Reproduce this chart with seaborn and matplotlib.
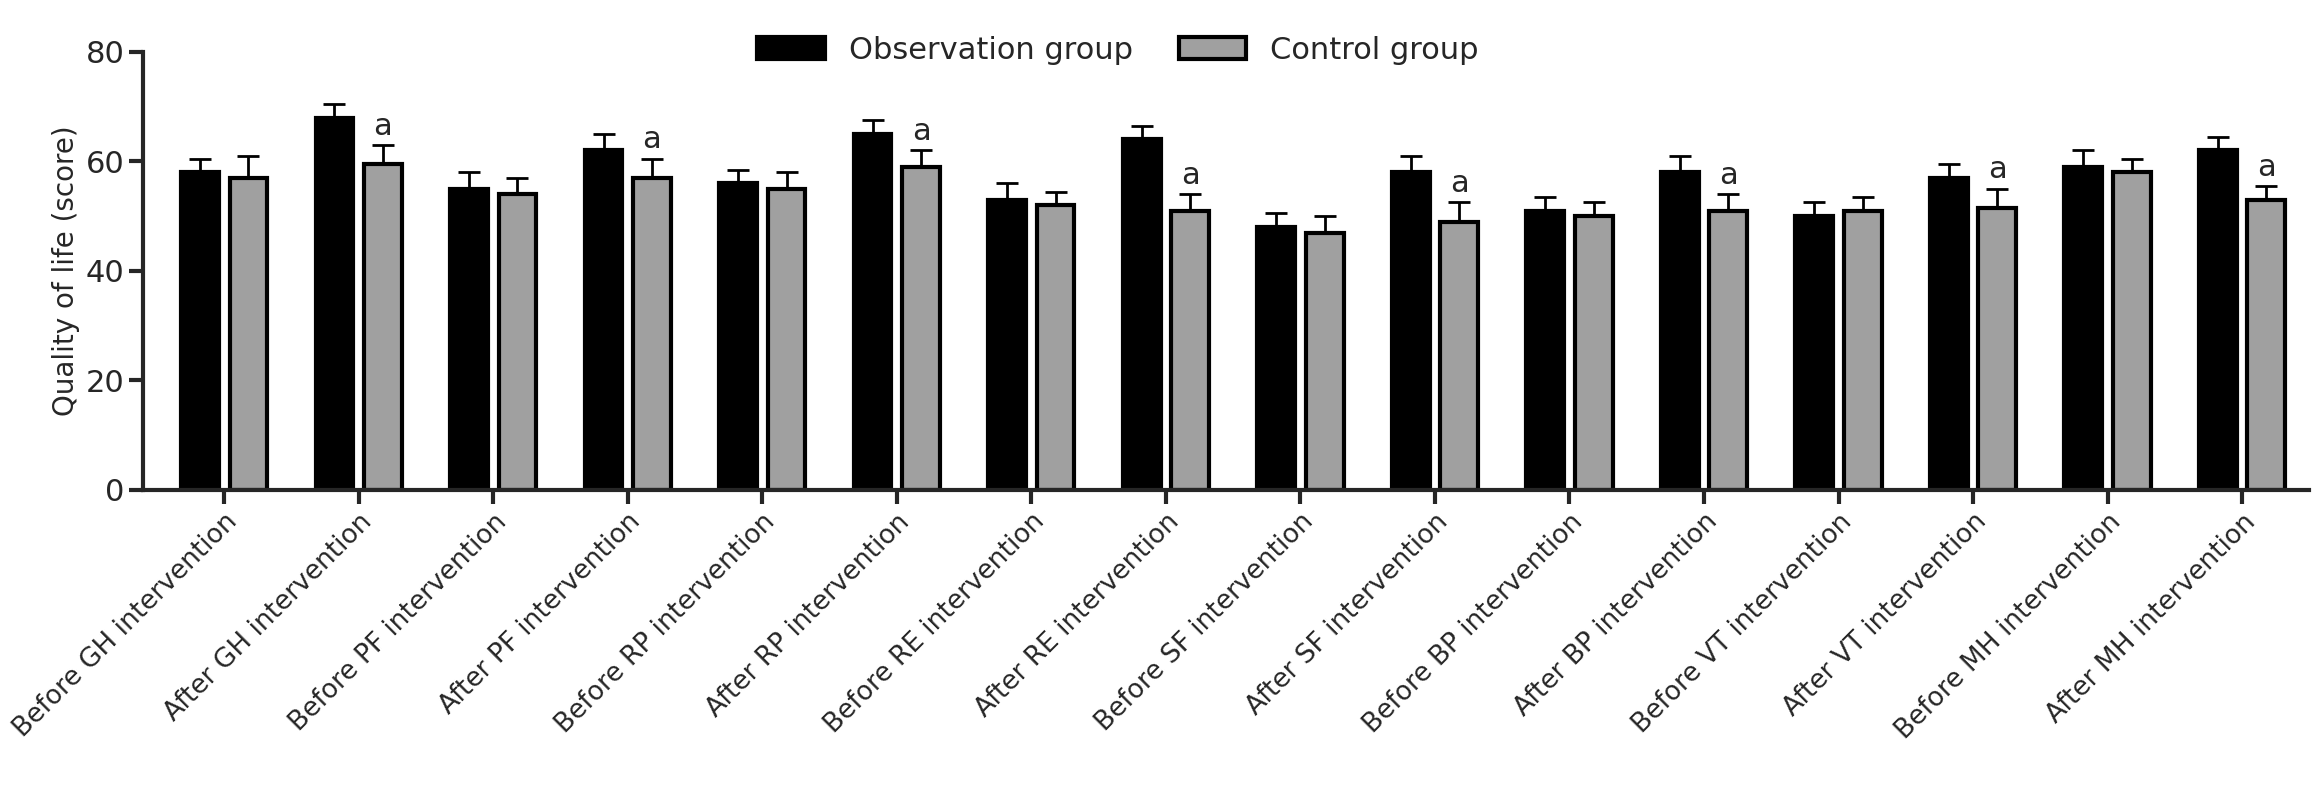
import numpy as np
import pandas as pd
import matplotlib.pyplot as plt
import seaborn as sns

sns.set_theme(style="ticks")
plt.rcParams['font.family'] = ['DejaVu Sans']

categories = ["Before GH intervention", "After GH intervention", "Before PF intervention",
              "After PF intervention", "Before RP intervention", "After RP intervention",
              "Before RE intervention", "After RE intervention", "Before SF intervention",
              "After SF intervention", "Before BP intervention", "After BP intervention",
              "Before VT intervention", "After VT intervention", "Before MH intervention",
              "After MH intervention"]
obs_mean = [58, 68, 55, 62, 56, 65, 53, 64, 48, 58, 51, 58, 50, 57, 59, 62]
obs_err = [2.5, 2.5, 3, 3, 2.5, 2.5, 3, 2.5, 2.5, 3, 2.5, 3, 2.5, 2.5, 3, 2.5]
ctrl_mean = [57, 59.5, 54, 57, 55, 59, 52, 51, 47, 49, 50, 51, 51, 51.5, 58, 53]
ctrl_err = [4, 3.5, 3, 3.5, 3, 3, 2.5, 3, 3, 3.5, 2.5, 3, 2.5, 3.5, 2.5, 2.5]
significant = [False, True, False, True, False, True, False, True,
               False, True, False, True, False, True, False, True]

df = pd.DataFrame({
    "cat": categories * 2,
    "group": ["Observation group"] * 16 + ["Control group"] * 16,
    "val": obs_mean + ctrl_mean,
})

fig, ax = plt.subplots(figsize=(23.14, 7.98), dpi=100)
sns.barplot(data=df, x="cat", y="val", hue="group", order=categories,
            hue_order=["Observation group", "Control group"],
            palette=["#000000", "#a0a0a0"], width=0.72, gap=0.22,
            edgecolor="black", linewidth=3, errorbar=None, ax=ax)

patches = ax.patches[:32]
errs = obs_err + ctrl_err
for p, e in zip(patches, errs):
    x = p.get_x() + p.get_width() / 2
    h = p.get_height()
    ax.errorbar(x, h, yerr=[[0], [e]], fmt="none", ecolor="black",
                elinewidth=2, capsize=8, capthick=2)
for i, sig in enumerate(significant):
    if sig:
        p = patches[16 + i]
        x = p.get_x() + p.get_width() / 2
        ax.text(x, ctrl_mean[i] + ctrl_err[i] + 0.8, "a", ha="center", va="bottom", fontsize=22)

ax.set_ylim(0, 80)
ax.set_yticks([0, 20, 40, 60, 80])
ax.set_xlim(-0.6, 15.5)
ax.set_xlabel("")
ax.set_ylabel("Quality of life (score)", fontsize=20)
ax.tick_params(axis="y", labelsize=22, width=3, length=10)
ax.tick_params(axis="x", labelsize=19, width=3, length=10)
plt.setp(ax.get_xticklabels(), rotation=45, ha="right", rotation_mode="anchor")
for s in ["left", "bottom"]:
    ax.spines[s].set_linewidth(3)
sns.despine(ax=ax)
ax.legend(loc="upper center", bbox_to_anchor=(0.45, 1.1), ncol=2, frameon=False,
          fontsize=22, handlelength=2.2, columnspacing=1.5)

fig.subplots_adjust(left=0.062, right=0.998, top=0.935, bottom=0.386)
fig.savefig("out.png", dpi=100)
